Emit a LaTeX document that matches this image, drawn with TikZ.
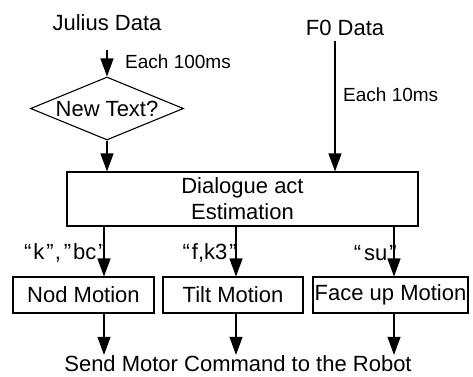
\documentclass[tikz,border=0pt]{standalone}
\usepackage{fontspec}
\setmainfont{Liberation Sans}
\usetikzlibrary{arrows.meta,shapes.geometric}
\begin{document}
\begin{tikzpicture}[x=1pt,y=-1pt,
  every node/.style={font=\fontsize{22}{26}\selectfont, inner sep=0pt},
  box/.style={draw, line width=1.1pt, minimum height=36pt},
  small/.style={font=\fontsize{19}{22}\selectfont, anchor=west},
  quote/.style={anchor=east},
  arr/.style={line width=1.1pt, -{Triangle[length=18pt,width=13pt]}}]
\useasboundingbox (0,0) rectangle (473,376);
% inputs
\node (julius) at (107,23) {Julius Data};
\node (f0) at (345,28) {F0 Data};
\coordinate (j0) at (107,50);
\coordinate (f00) at (335,41);
\node[draw, diamond, aspect=2.43, minimum width=153pt, minimum height=63pt, line width=1.1pt] (dia) at (107,108.5) {New Text?};
\node[draw, line width=1.1pt, minimum width=351pt, minimum height=54pt, align=center] (est) at (242.5,199) {Dialogue act\\Estimation};
\draw[arr] (j0) -- (dia.north);
\draw[arr] (dia.south) -- (est.north -| dia.south);
\draw[arr] (f00) -- (est.north -| f00);
\node[small] (l100) at (125,62) {Each 100ms};
\node[small] (l10) at (343,95) {Each 10ms};
% motion boxes
\node[box, minimum width=141pt] (nod) at (83.5,295) {Nod Motion};
\node[box, minimum width=140pt] (tilt) at (233,295) {Tilt Motion};
\node[box, minimum width=155pt] (face) at (390.5,295) {Face up Motion};
\coordinate (a1) at (104,0);
\coordinate (a2) at (236,0);
\coordinate (a3) at (394,0);
\node[anchor=base] (send) at (238,371) {Send Motor Command to the Robot};
\draw[arr] (est.south -| a1) -- (nod.north -| a1);
\draw[arr] (est.south -| a2) -- (tilt.north -| a2);
\draw[arr] (est.south -| a3) -- (face.north -| a3);
\draw[arr] (nod.south -| a1) -- (send.north -| a1);
\draw[arr] (tilt.south -| a2) -- (send.north -| a2);
\draw[arr] (face.south -| a3) -- (send.north -| a3);
\node[quote] (q1) at (106,253) {“\kern2pt k\kern2pt ”\kern1pt,\kern3pt ”\kern2pt bc\kern2pt ”};
\node[quote] (q2) at (237,253) {“\kern2pt f,k3\kern2pt ”};
\node[quote] (q3) at (397,253) {“\kern3pt su\kern2pt ”};
\end{tikzpicture}
\end{document}
